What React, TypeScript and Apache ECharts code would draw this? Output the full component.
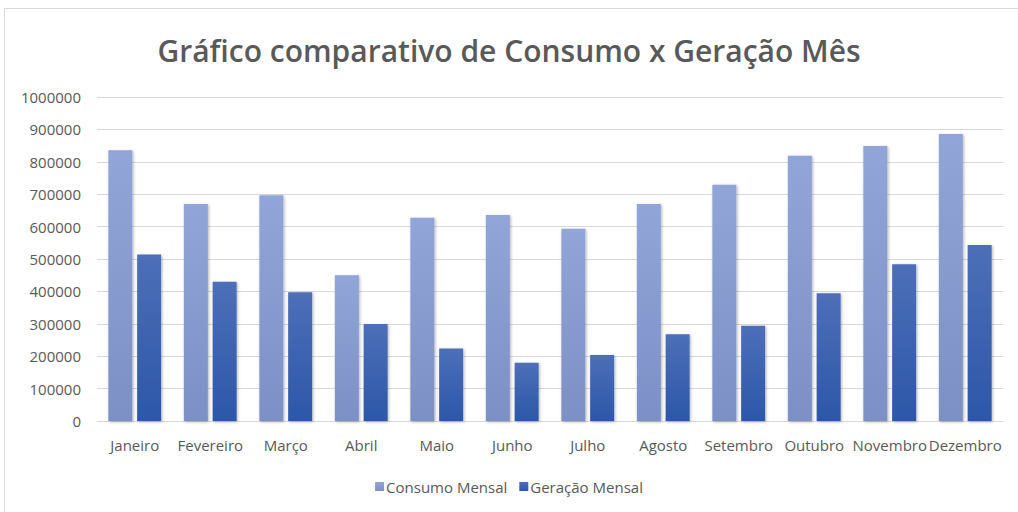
import React, { useEffect, useRef } from "react";
import * as echarts from "echarts";

const categories = ["Janeiro", "Fevereiro", "Março", "Abril", "Maio", "Junho", "Julho", "Agosto", "Setembro", "Outubro", "Novembro", "Dezembro"];
const consumoMensal = [836000, 670000, 697000, 450000, 627000, 636000, 593000, 670000, 729000, 819000, 849000, 886000];
const geracaoMensal = [514000, 430000, 397000, 299000, 224000, 180000, 204000, 268000, 294000, 394000, 484000, 543000];
const seriesNames = ["Consumo Mensal", "Geração Mensal"];
const titleText = "Gráfico comparativo de Consumo x Geração Mês";

const FONT = "'Open Sans', 'Noto Sans', sans-serif";

export default function App() {
  const ref = useRef<HTMLDivElement>(null);
  useEffect(() => {
    document.body.style.margin = "0";
    const chart = echarts.init(ref.current!, null, { renderer: "svg" });
    const grad = (a: string, b: string) =>
      new echarts.graphic.LinearGradient(0, 0, 0, 1, [
        { offset: 0, color: a },
        { offset: 1, color: b },
      ]);
    chart.setOption({
      animation: false,
      backgroundColor: "#ffffff",
      graphic: [
        {
          type: "rect",
          shape: { x: 4.5, y: 8.5, width: 1030, height: 520 },
          style: { fill: "none", stroke: "#d9d9d9", lineWidth: 1 },
          silent: true,
        },
      ],
      title: {
        text: titleText,
        left: "center",
        top: 30,
        textStyle: { fontFamily: FONT, fontSize: 30, fontWeight: 600, color: "#595959" },
      },
      legend: {
        bottom: 13,
        left: "center",
        itemWidth: 9,
        itemHeight: 9,
        itemGap: 12,
        icon: "rect",
        textStyle: { fontFamily: FONT, fontSize: 15, color: "#595959", padding: [0, 0, 0, -3] },
        data: seriesNames,
      },
      grid: { left: 97, right: 15, top: 97, bottom: 91, containLabel: false },
      xAxis: {
        type: "category",
        data: categories,
        axisTick: { show: false },
        axisLine: { lineStyle: { color: "#d9d9d9" } },
        axisLabel: { fontFamily: FONT, fontSize: 15, color: "#595959", margin: 16, interval: 0 },
      },
      yAxis: {
        type: "value",
        min: 0,
        max: 1000000,
        interval: 100000,
        axisLine: { show: false },
        axisTick: { show: false },
        splitLine: { lineStyle: { color: "#d9d9d9" } },
        axisLabel: {
          fontFamily: FONT,
          fontSize: 15,
          color: "#595959",
          margin: 16,
          formatter: (v: number) => String(v),
        },
      },
      series: [
        {
          name: seriesNames[0],
          type: "bar",
          data: consumoMensal,
          barWidth: 24,
          barGap: "20%",
          itemStyle: {
            color: grad("#91A5D8", "#7C90C6"),
            shadowBlur: 3,
            shadowColor: "rgba(0,0,0,0.3)",
            shadowOffsetX: 1,
            shadowOffsetY: 1,
          },
        },
        {
          name: seriesNames[1],
          type: "bar",
          data: geracaoMensal,
          barWidth: 24,
          itemStyle: {
            color: grad("#4D6FB8", "#2C57A8"),
            shadowBlur: 3,
            shadowColor: "rgba(0,0,0,0.3)",
            shadowOffsetX: 1,
            shadowOffsetY: 1,
          },
        },
      ],
    });
    return () => chart.dispose();
  }, []);
  return <div ref={ref} style={{ width: 1018, height: 512 }} />;
}
